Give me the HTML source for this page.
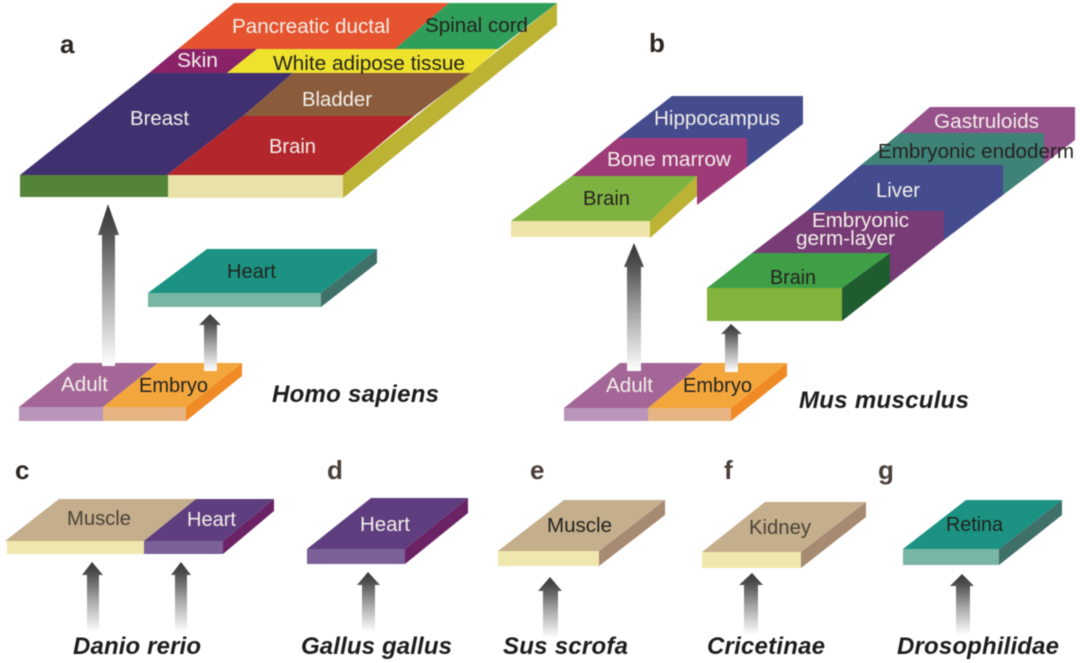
<!DOCTYPE html>
<html lang="en">
<head>
<meta charset="utf-8">
<title>Diagram</title>
<style>
html,body{margin:0;padding:0;background:#fff;width:1080px;height:663px;overflow:hidden}
svg{display:block;filter:blur(0.5px)}
text{font-family:"Liberation Sans",Arial,sans-serif;font-size:20.5px}
.w{fill:#f3efe9}
.k{fill:#24231f}
.g{fill:#4a4236}
.s{font-weight:bold;font-style:italic;font-size:24px;fill:#1c1c1c}
.l{font-weight:bold;font-size:26px;fill:#2b2622}
.m{fill:#4a3f38}
</style>
</head>
<body>
<svg width="1080" height="663" viewBox="0 0 1080 663" xmlns="http://www.w3.org/2000/svg">
<defs>
<linearGradient id="ar" x1="0" y1="0" x2="0" y2="1">
<stop offset="0" stop-color="#363636"/>
<stop offset="0.15" stop-color="#4c4c4c"/>
<stop offset="0.55" stop-color="#a8a8a8"/>
<stop offset="1" stop-color="#ffffff"/>
</linearGradient>
</defs>
<rect width="1080" height="663" fill="#fff"/>

<!-- Panel a: main slab -->
<polygon points="343,175 557,3 557,25 343,198" fill="#bcb233"/>
<rect x="20" y="175" width="148" height="22" fill="#548438"/>
<rect x="168" y="175" width="175" height="23" fill="#e9e2a8"/>
<polygon points="234,3 449,3 395,49 178,49" fill="#e5532f"/>
<polygon points="449,3 557,3 498,49 395,49" fill="#2f9e5b"/>
<polygon points="178,49 257,49 227,73 149,73" fill="#8a2268"/>
<polygon points="257,49 498,49 471,73 227,73" fill="#efe22d"/>
<polygon points="149,73 293,73 243,116 167,175 20,175" fill="#41306f"/>
<polygon points="293,73 471,73 414,116 243,116" fill="#8a5c3c"/>
<polygon points="243,116 414,116 343,175 167,175" fill="#b3262c"/>

<!-- Panel a: heart slab -->
<polygon points="377,249 377,263 321,307 321,293" fill="#40706a"/>
<rect x="148" y="293" width="173" height="14" fill="#79b5a4"/>
<polygon points="207,249 377,249 321,293 148,293" fill="#1b9282"/>

<!-- Panel a: base -->
<polygon points="242,363 242,376 186,421 186,407" fill="#ef8a25"/>
<rect x="19" y="407" width="84" height="14" fill="#b895b9"/>
<rect x="103" y="407" width="83" height="14" fill="#e6b583"/>
<polygon points="74,363 158,363 103,407 19,407" fill="#a36696"/>
<polygon points="158,363 242,363 186,407 103,407" fill="#f3a63c"/>

<!-- Panel a arrows -->
<polygon points="108,204 119,235 115,235 115,366 102,366 102,235 98,235" fill="url(#ar)"/>
<polygon points="210,314 221,325 217,325 217,371 204,371 204,325 199,325" fill="url(#ar)"/>

<!-- Panel b: left stack -->
<polygon points="672,96 803,96 803,124 747,167 747,138 618,138" fill="#454c8e"/>
<polygon points="618,138 747,138 747,167 697,205 697,176 572,176" fill="#9d3a78"/>
<polygon points="697,176 697,196 650,238 650,221" fill="#bcb233"/>
<rect x="511" y="221" width="139" height="16" fill="#ece4a8"/>
<polygon points="572,176 697,176 650,221 511,221" fill="#7fb341"/>

<!-- Panel b: right stack -->
<polygon points="930,107 1075,107 1075,140 1044,164 1044,133 900,133" fill="#96508a"/>
<polygon points="900,133 1044,133 1044,164 1003,195 1003,165 861,165" fill="#3f8278"/>
<polygon points="861,165 1003,165 1003,195 944,240 944,211 807,211" fill="#454c8e"/>
<polygon points="807,211 944,211 944,240 890,283 890,253 752,253" fill="#773b76"/>
<polygon points="890,253 890,283 842,321 842,288" fill="#1f5c2f"/>
<rect x="707" y="288" width="135" height="33" fill="#83b33b"/>
<polygon points="752,253 890,253 842,288 707,288" fill="#3f9f47"/>

<!-- Panel b: base -->
<polygon points="787,363 787,376 731,421 731,408" fill="#ef8a25"/>
<rect x="564" y="408" width="84" height="13" fill="#b895b9"/>
<rect x="648" y="408" width="83" height="13" fill="#e6b583"/>
<polygon points="620,363 703,363 648,408 564,408" fill="#a36696"/>
<polygon points="703,363 787,363 731,408 648,408" fill="#f3a63c"/>

<!-- Panel b arrows -->
<polygon points="634,243 644,267 641,267 641,371 627,371 627,267 624,267" fill="url(#ar)"/>
<polygon points="731,324 742,334 738,334 738,372 725,372 725,334 721,334" fill="url(#ar)"/>

<!-- Panel c -->
<polygon points="274,499 274,511 223,554 223,541" fill="#6b2366"/>
<rect x="7" y="541" width="137" height="13" fill="#efe7ad"/>
<rect x="144" y="541" width="79" height="13" fill="#7a6298"/>
<polygon points="59,499 196,499 144,541 5,541" fill="#c4ae8c"/>
<polygon points="196,499 274,499 223,541 144,541" fill="#5e3e7e"/>
<polygon points="92,562 103,575 99,575 99,632 87,632 87,575 82,575" fill="url(#ar)"/>
<polygon points="181,562 191,575 187,575 187,632 175,632 175,575 171,575" fill="url(#ar)"/>

<!-- Panel d -->
<polygon points="468,498 468,513 405,564 405,549" fill="#6b2366"/>
<rect x="307" y="549" width="98" height="15" fill="#7a6298"/>
<polygon points="371,498 468,498 405,549 307,549" fill="#5e3e7e"/>
<polygon points="368,572 380,585 375,585 375,632 362,632 362,585 357,585" fill="url(#ar)"/>

<!-- Panel e -->
<polygon points="665,500 665,515 599,566 599,551" fill="#a68a72"/>
<rect x="498" y="551" width="101" height="15" fill="#efe7ad"/>
<polygon points="564,500 665,500 599,551 498,551" fill="#c4ae8c"/>
<polygon points="550,577 562,591 558,591 558,638 543,638 543,591 538,591" fill="url(#ar)"/>

<!-- Panel f -->
<polygon points="866,502 866,517 801,568 801,552" fill="#a68a72"/>
<rect x="702" y="552" width="99" height="16" fill="#efe7ad"/>
<polygon points="765,502 866,502 801,552 702,552" fill="#c4ae8c"/>
<polygon points="752,573 763,585 758,585 758,635 744,635 744,585 739,585" fill="url(#ar)"/>

<!-- Panel g -->
<polygon points="1062,500 1062,515 999,565 999,549" fill="#40706a"/>
<rect x="903" y="549" width="96" height="16" fill="#79b5a4"/>
<polygon points="966,500 1062,500 999,549 903,549" fill="#1b9282"/>
<polygon points="962,574 974,586 970,586 970,635 956,635 956,586 950,586" fill="url(#ar)"/>

<!-- Panel letters -->
<text class="l" x="60" y="53">a</text>
<text class="l" x="649" y="52">b</text>
<text class="l" x="15" y="479">c</text>
<text class="l m" x="327" y="479">d</text>
<text class="l m" x="530" y="479">e</text>
<text class="l m" x="724" y="479">f</text>
<text class="l m" x="878" y="479">g</text>

<!-- Panel a labels -->
<text class="w" x="232" y="33" textLength="158" lengthAdjust="spacingAndGlyphs">Pancreatic ductal</text>
<text class="k" x="425" y="32" textLength="103" lengthAdjust="spacingAndGlyphs">Spinal cord</text>
<text class="w" x="177" y="67" textLength="41" lengthAdjust="spacingAndGlyphs">Skin</text>
<text class="k" x="273" y="70" textLength="192" lengthAdjust="spacingAndGlyphs">White adipose tissue</text>
<text class="w" x="130" y="125" textLength="59" lengthAdjust="spacingAndGlyphs">Breast</text>
<text class="w" x="302" y="106" textLength="70" lengthAdjust="spacingAndGlyphs">Bladder</text>
<text class="w" x="269" y="153" textLength="47" lengthAdjust="spacingAndGlyphs">Brain</text>
<text class="k" x="227" y="278" textLength="49" lengthAdjust="spacingAndGlyphs">Heart</text>
<text class="w" x="61" y="391" textLength="47" lengthAdjust="spacingAndGlyphs">Adult</text>
<text class="k" x="139" y="392" textLength="69" lengthAdjust="spacingAndGlyphs">Embryo</text>
<text class="s" x="272" y="402" textLength="167" lengthAdjust="spacing">Homo sapiens</text>

<!-- Panel b labels -->
<text class="w" x="654" y="125" textLength="126" lengthAdjust="spacingAndGlyphs">Hippocampus</text>
<text class="w" x="607" y="166" textLength="124" lengthAdjust="spacingAndGlyphs">Bone marrow</text>
<text class="k" x="583" y="205" textLength="47" lengthAdjust="spacingAndGlyphs">Brain</text>
<text class="w" x="934" y="128" textLength="105" lengthAdjust="spacingAndGlyphs">Gastruloids</text>
<text class="k" x="878" y="158" textLength="196" lengthAdjust="spacingAndGlyphs">Embryonic endoderm</text>
<text class="w" x="876" y="197" textLength="44" lengthAdjust="spacingAndGlyphs">Liver</text>
<text class="w" x="812" y="227" textLength="97" lengthAdjust="spacingAndGlyphs">Embryonic</text>
<text class="w" x="796" y="245" textLength="99" lengthAdjust="spacingAndGlyphs">germ-layer</text>
<text class="k" x="770" y="284" textLength="46" lengthAdjust="spacingAndGlyphs">Brain</text>
<text class="w" x="606" y="392" textLength="47" lengthAdjust="spacingAndGlyphs">Adult</text>
<text class="k" x="683" y="392" textLength="69" lengthAdjust="spacingAndGlyphs">Embryo</text>
<text class="s" x="799" y="408" textLength="170" lengthAdjust="spacing">Mus musculus</text>

<!-- Lower panel labels -->
<text class="g" x="67" y="525" textLength="64" lengthAdjust="spacingAndGlyphs">Muscle</text>
<text class="w" x="187" y="526" textLength="49" lengthAdjust="spacingAndGlyphs">Heart</text>
<text class="s" x="73" y="654" textLength="128" lengthAdjust="spacing">Danio rerio</text>
<text class="w" x="360" y="531" textLength="50" lengthAdjust="spacingAndGlyphs">Heart</text>
<text class="s" x="301" y="654" textLength="151" lengthAdjust="spacing">Gallus gallus</text>
<text class="k" x="547" y="532" textLength="65" lengthAdjust="spacingAndGlyphs">Muscle</text>
<text class="s" x="503" y="654" textLength="125" lengthAdjust="spacing">Sus scrofa</text>
<text class="g" x="749" y="534" textLength="62" lengthAdjust="spacingAndGlyphs">Kidney</text>
<text class="s" x="707" y="654" textLength="118" lengthAdjust="spacing">Cricetinae</text>
<text class="k" x="946" y="531" textLength="57" lengthAdjust="spacingAndGlyphs">Retina</text>
<text class="s" x="897" y="654" textLength="162" lengthAdjust="spacing">Drosophilidae</text>
</svg>
</body>
</html>
